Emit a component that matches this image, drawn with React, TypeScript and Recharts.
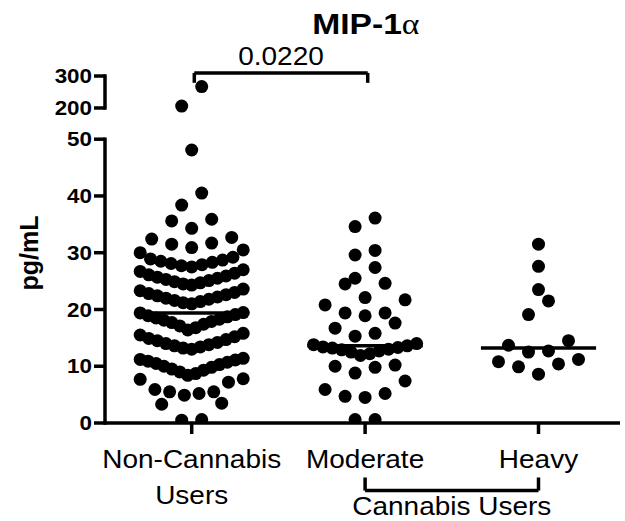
import React from "react";
import { ScatterChart, Scatter, XAxis, YAxis, ReferenceLine } from "recharts";

// ---- data -----------------------------------------------------------------
const categoryLines = [["Non-Cannabis", "Users"], ["Moderate"], ["Heavy"]];
const groupLabel = "Cannabis Users";
const titleText = "MIP-1";
const titleGreek = "\u03b1";
const pValue = "0.0220";
const yLabel = "pg/mL";
const yTickValues = [0, 10, 20, 30, 40, 50, 200, 300];

const nonUsers = [
  0.5, 0.6, 3.3, 3.5,
  4.9, 5.2, 5.5, 5.5, 5.9, 7.2, 7.7, 7.8,
  8.4, 8.7, 9.0, 9.3, 9.5, 9.8, 10.0, 10.3, 10.5, 10.7, 10.9, 11.1, 11.2, 11.4,
  13.0, 13.2, 13.4, 13.6, 13.8, 14.0, 14.2, 14.5, 14.7, 14.9, 15.2, 15.5, 15.8,
  16.4, 16.8, 17.1, 17.4, 17.7, 17.9, 18.1, 18.3, 18.5, 18.7, 18.9, 19.1, 19.4, 19.45,
  21.0, 21.2, 21.4, 21.6, 21.8, 22.0, 22.2, 22.4, 22.6, 22.8, 23.0, 23.3, 23.6,
  24.3, 24.5, 24.7, 24.9, 25.1, 25.3, 25.5, 25.7, 25.9, 26.1, 26.4, 26.7, 27.0,
  27.5, 27.7, 27.9, 28.1, 28.3, 28.5, 28.7, 28.9, 29.2, 30.0, 30.5,
  30.9, 31.5, 31.7, 32.4, 32.7,
  34.3, 35.6, 35.9,
  38.4, 40.5,
  48.1,
  206, 267,
];

const moderate = [
  0.6, 0.6, 4.5, 4.7, 5.2, 5.9, 7.4, 8.8, 9.8, 10.0, 10.2,
  11.9, 12.2, 12.5, 12.7, 12.9, 13.0, 13.2, 13.3, 13.4, 13.6, 13.8, 14.0,
  15.3, 15.8, 16.7, 17.6, 18.9, 19.4, 19.4, 20.8, 21.7, 22.1, 24.5, 24.6,
  25.5, 27.4, 29.6, 30.4, 34.6, 36.1,
];

const heavy = [
  8.6, 9.9, 10.4, 10.8, 11.2, 12.5, 12.7, 13.7, 14.5, 19.1, 21.5, 23.5, 27.6, 31.5,
];

const groups = [nonUsers, moderate, heavy];

// ---- geometry / styling ----------------------------------------------------
const W = 625;
const H = 521;
const TOP = 20;
const RIGHT = 5;
const X_AXIS_H = 98;
const Y_AXIS_W = 105;
const X_DOMAIN: [number, number] = [-0.5, 2.47];
const Y_DOMAIN: [number, number] = [0, 71];
const PX_PER_X = (W - Y_AXIS_W - RIGHT) / (X_DOMAIN[1] - X_DOMAIN[0]);
const FONT = "'Liberation Sans', Arial, Helvetica, sans-serif";
const SERIF = "'Liberation Serif', 'Times New Roman', serif";
const STRETCH = 1.12;
const LINE_W = 3.5;
const DOT_R = 6.5;

// broken axis: 0-50 linear, then 200-300 compressed above a gap
const BREAK_LOW = 50;
const BREAK_HIGH = 200;
const UPPER_START = 55.5;
const UPPER_SCALE = 0.0563;
const toAxis = (v: number) =>
  v <= BREAK_LOW ? v : UPPER_START + (v - BREAK_HIGH) * UPPER_SCALE;

// column scatter layout (rows of nearby values spread around the column centre)
const ROW_SPAN = 3.05;
const MAX_STEP_PX = 20;
const HALF_WIDTH_PX = 51.5;

function swarm(values: number[], center: number) {
  const ys = values.map(toAxis).sort((a, b) => a - b);
  const out: { x: number; y: number }[] = [];
  let i = 0;
  while (i < ys.length) {
    let j = i;
    // points above the break share one row
    const span = ys[i] > BREAK_LOW ? 10 : ROW_SPAN;
    while (j < ys.length && ys[j] <= ys[i] + span) j++;
    const row = ys.slice(i, j);
    const n = row.length;
    const step = n > 1 ? Math.min(MAX_STEP_PX, (2 * HALF_WIDTH_PX) / (n - 1)) : 0;
    row.forEach((y, k) => {
      let off = 0;
      if (n % 2 === 1) {
        off = k === 0 ? 0 : Math.ceil(k / 2) * step * (k % 2 === 1 ? -1 : 1);
      } else {
        off = (Math.floor(k / 2) + 0.5) * step * (k % 2 === 0 ? -1 : 1);
      }
      out.push({ x: center + off / PX_PER_X, y });
    });
    i = j;
  }
  return out;
}

function median(values: number[]) {
  const s = [...values].sort((a, b) => a - b);
  const m = Math.floor(s.length / 2);
  return s.length % 2 ? s[m] : (s[m - 1] + s[m]) / 2;
}

const yTicks = yTickValues.map(toAxis);
const yAxisStart = X_DOMAIN[0];

const Dot = (p: any) => <circle cx={p.cx} cy={p.cy} r={DOT_R} fill="#000" />;

const XTick = ({ x, y, payload }: any) => {
  const lines = categoryLines[payload.value] ?? [];
  return (
    <g transform={`translate(${x},${y})`}>
      {lines.map((t, i) => (
        <text
          key={t}
          x={0}
          y={32 + i * 36}
          textAnchor="middle"
          fontSize={25}
          fontFamily={FONT}
          fill="#000"
          transform={`scale(${STRETCH},1)`}
        >
          {t}
        </text>
      ))}
    </g>
  );
};

const YTick = ({ x, y, payload }: any) => {
  const idx = yTicks.findIndex((t) => Math.abs(t - payload.value) < 1e-6);
  return (
    <g transform={`translate(${x},${y}) scale(${STRETCH},1)`}>
      <text x={0} y={0} dy="0.36em" textAnchor="end" fontSize={20} fontWeight="bold" fontFamily={FONT} fill="#000">
        {idx >= 0 ? yTickValues[idx] : ""}
      </text>
    </g>
  );
};

const YTitle = () => (
  <g transform="translate(38,253) rotate(-90)">
    <text x={0} y={0} textAnchor="middle" fontSize={25} fontWeight="bold" fontFamily={FONT} fill="#000">
      {yLabel}
    </text>
  </g>
);

const SegmentText = ({ viewBox, text, dy }: any) => {
  if (!viewBox) return null;
  const cx = viewBox.x + viewBox.width / 2;
  return (
    <g transform={`translate(${cx},${viewBox.y + dy}) scale(${STRETCH},1)`}>
      <text x={0} y={0} textAnchor="middle" fontSize={25} fontFamily={FONT} fill="#000">
        {text}
      </text>
    </g>
  );
};

const lineProps = { stroke: "#000", strokeWidth: LINE_W, ifOverflow: "visible" as const };

export default function App() {
  const topY = toAxis(300);
  const pBar = topY + 0.55;
  const pLeg = topY - 1.2;
  const gBar = -11.9;
  const gLeg = -9.6;
  const pL = 0.015;
  const pR = 1.015;
  return (
    <div style={{ position: "absolute", left: 0, top: 0, width: W, height: H, background: "#fff" }}>
      <div
        style={{
          position: "absolute",
          left: 266,
          top: 9,
          width: 200,
          textAlign: "center",
          fontFamily: FONT,
          fontWeight: "bold",
          fontSize: 30,
          lineHeight: 1,
          color: "#000",
        }}
      >
        <span style={{ display: "inline-block", transform: `scaleX(${STRETCH})` }}>
          {titleText}
          <span style={{ fontFamily: SERIF, fontWeight: "normal" }}>{titleGreek}</span>
        </span>
      </div>
      <ScatterChart width={W} height={H} margin={{ top: TOP, right: RIGHT, bottom: 0, left: 0 }}>
        <XAxis
          type="number"
          dataKey="x"
          domain={X_DOMAIN}
          ticks={[0, 1, 2]}
          allowDataOverflow
          height={X_AXIS_H}
          tickSize={11}
          axisLine={{ stroke: "#000", strokeWidth: LINE_W }}
          tickLine={{ stroke: "#000", strokeWidth: LINE_W }}
          tick={<XTick />}
          interval={0}
        />
        <YAxis
          type="number"
          dataKey="y"
          domain={Y_DOMAIN}
          ticks={yTicks}
          allowDataOverflow
          width={Y_AXIS_W}
          tickSize={11}
          axisLine={false}
          tickLine={{ stroke: "#000", strokeWidth: LINE_W }}
          tick={<YTick />}
          interval={0}
          label={<YTitle />}
        />
        {/* broken y axis */}
        <ReferenceLine
          {...lineProps}
          strokeLinecap="square"
          segment={[{ x: yAxisStart, y: 0 }, { x: yAxisStart, y: BREAK_LOW }]}
        />
        <ReferenceLine
          {...lineProps}
          strokeLinecap="square"
          segment={[{ x: yAxisStart, y: toAxis(BREAK_HIGH) }, { x: yAxisStart, y: topY }]}
        />
        {groups.map((g, i) => (
          <Scatter
            key={i}
            data={swarm(g, i)}
            shape={Dot}
            isAnimationActive={false}
          />
        ))}
        {groups.map((g, i) => (
          <ReferenceLine
            key={`m${i}`}
            {...lineProps}
            segment={[{ x: i - 0.332, y: median(g) }, { x: i + 0.332, y: median(g) }]}
          />
        ))}
        {/* significance bracket */}
        <ReferenceLine {...lineProps} segment={[{ x: pL, y: pLeg }, { x: pL, y: pBar }]} />
        <ReferenceLine {...lineProps} segment={[{ x: pR, y: pLeg }, { x: pR, y: pBar }]} />
        <ReferenceLine
          {...lineProps}
          segment={[{ x: pL, y: pBar }, { x: pR, y: pBar }]}
          label={<SegmentText text={pValue} dy={-8} />}
        />
        {/* cannabis users bracket */}
        <ReferenceLine {...lineProps} segment={[{ x: 1, y: gLeg }, { x: 1, y: gBar }]} />
        <ReferenceLine {...lineProps} segment={[{ x: 2, y: gLeg }, { x: 2, y: gBar }]} />
        <ReferenceLine
          {...lineProps}
          segment={[{ x: 1, y: gBar }, { x: 2, y: gBar }]}
          label={<SegmentText text={groupLabel} dy={24} />}
        />
      </ScatterChart>
    </div>
  );
}
